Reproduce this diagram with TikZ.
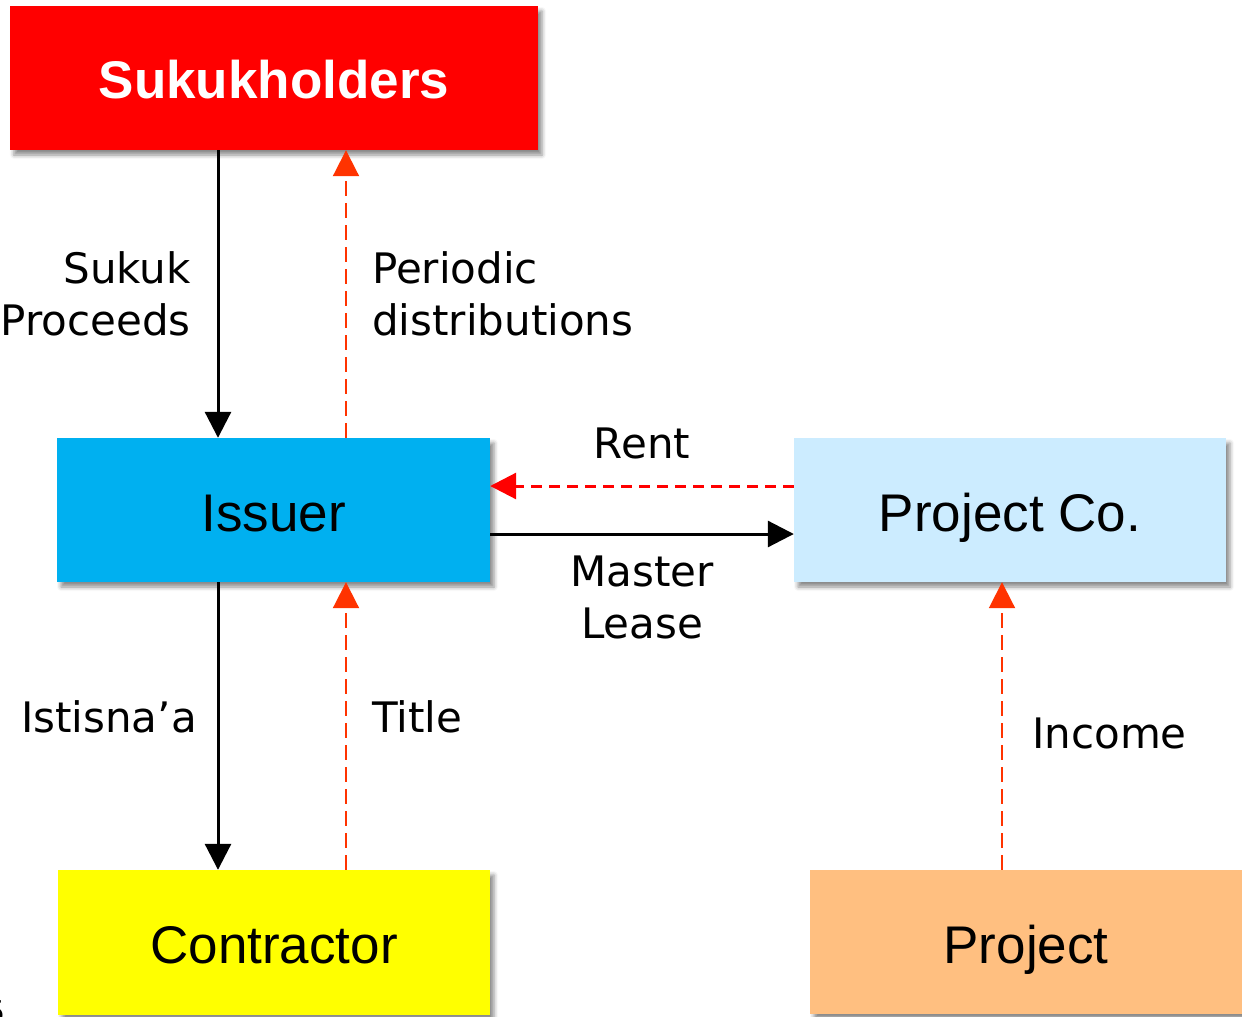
\documentclass[tikz,border=0pt]{standalone}
\usepackage{fontspec}
\setmainfont{Liberation Sans}
\newfontfamily\labfont{DejaVu Sans}
\usetikzlibrary{arrows.meta,shadows.blur}

\definecolor{sukred}{HTML}{FF0000}
\definecolor{issblue}{HTML}{00B0F0}
\definecolor{pcoblue}{HTML}{CCECFF}
\definecolor{conyellow}{HTML}{FFFF00}
\definecolor{prjorange}{HTML}{FFBF80}
\definecolor{flowred}{HTML}{FF3300}

\tikzset{
  party/.style={rectangle, draw=none, inner sep=0pt,
    minimum width=432pt, minimum height=144pt,
    text height=42pt, text depth=0pt,
    font=\fontsize{53}{60}\selectfont,
    blur shadow={shadow xshift=4pt, shadow yshift=-5pt,
      shadow blur radius=4pt, shadow opacity=45}},
  lbl/.style={inner sep=0pt, font=\labfont\fontsize{42}{52}\selectfont},
  tip/.style={-{Triangle[length=26pt,width=26pt]}},
  solidflow/.style={tip, draw=black, line width=3pt},
  rentflow/.style={tip, draw=sukred, line width=3pt,
    dash pattern=on 11pt off 7pt},
  payflow/.style={-{Triangle[length=26pt,width=26pt,fill=flowred]}, draw=flowred,
    line width=2pt, dash pattern=on 15pt off 7pt},
}

\begin{document}
\begin{tikzpicture}[x=1pt,y=-1pt]
\useasboundingbox (0,0) rectangle (1242,1017);

% parties
\node[party, fill=sukred, minimum width=528pt, text=white, text height=40pt,
  font=\fontsize{53}{60}\selectfont\bfseries] (suk) at (274,78) {Sukukholders};
\node[party, fill=issblue, minimum width=433pt] (iss) at (273.5,510) {Issuer};
\node[party, fill=pcoblue] (pco) at (1010,510) {Project Co.};
\node[party, fill=conyellow, minimum height=145pt] (con) at (274,942.5) {Contractor};
\node[party, fill=prjorange] (prj) at (1026,942) {Project};

% columns and rows used by the flows
\coordinate (colL) at (218,0);
\coordinate (colR) at (346,0);
\coordinate (colP) at (1002,0);
\coordinate (rowRent) at (0,486);
\coordinate (rowLease) at (0,534);

% flows
\draw[solidflow] (suk.south -| colL) -- (iss.north -| colL);
\draw[payflow] (iss.north -| colR) -- (suk.south -| colR);
\draw[rentflow] (pco.west |- rowRent) -- (iss.east |- rowRent);
\draw[solidflow] (iss.east |- rowLease) -- (pco.west |- rowLease);
\draw[solidflow] (iss.south -| colL) -- (con.north -| colL);
\draw[payflow] (con.north -| colR) -- (iss.south -| colR);
\draw[payflow] (prj.north -| colP) -- (pco.south -| colP);

% flow labels
\node[lbl, anchor=east, align=right] (lproc) at (191,294) {Sukuk\\Proceeds};
\node[lbl, anchor=west, align=left] (ldist) at (372,294) {Periodic\\distributions};
\node[lbl] (lrent) at (642,443) {Rent};
\node[lbl, align=center] (llease) at (642,597) {Master\\Lease};
\node[lbl, anchor=east] (listi) at (197,717) {Istisna’a};
\node[lbl, anchor=west] (ltitle) at (372,717) {Title};
\node[lbl, anchor=west] (linc) at (1032,733) {Income};

% page number
\node[inner sep=0pt, font=\labfont\fontsize{30}{36}\selectfont] (pg) at (-4,1012) {5};
\end{tikzpicture}
\end{document}
